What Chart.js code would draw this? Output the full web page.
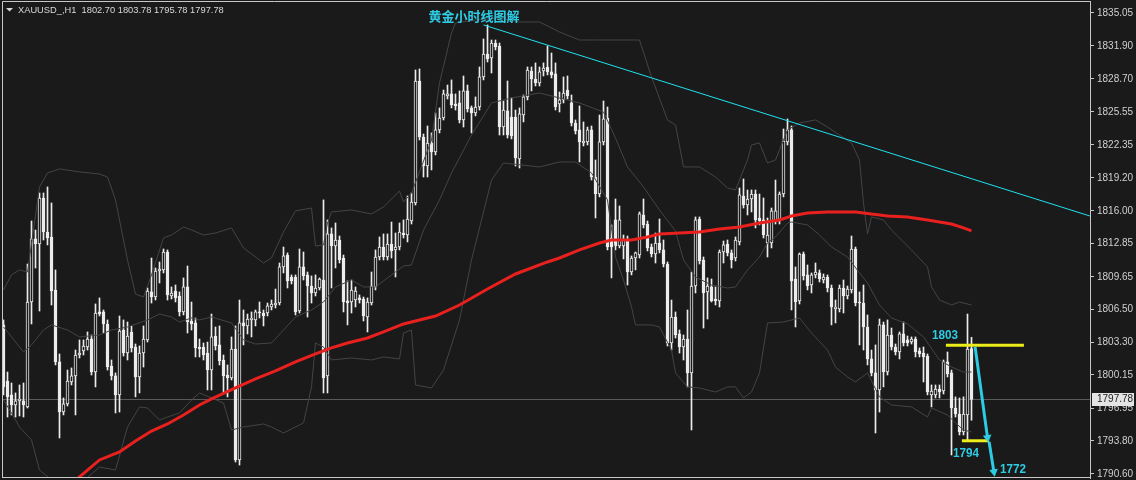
<!DOCTYPE html>
<html>
<head>
<meta charset="utf-8">
<script src="https://cdn.jsdelivr.net/npm/chart.js@4.4.0/dist/chart.umd.min.js"></script>
<style>
  html, body { margin: 0; padding: 0; background: #1a1a1a; }
  canvas { display: block; }
</style>
</head>
<body>
<canvas id="chart" width="1136" height="480"></canvas>
<script>
'use strict';

var symbolTitle = 'XAUUSD_,H1  1802.70 1803.78 1795.78 1797.78';
var chartNote   = '黄金小时线图解';

// H1 candles, oldest first
var openP = [
  1804.97,1799.56,1798.22,1797.25,1797.64,1797.64,1797.06,1807.18,1813.26,1812.77,
  1817.21,1813.93,1813.45,1808.34,1801.40,1796.57,1797.35,1799.47,1800.05,1802.07,
  1802.46,1802.84,1803.61,1800.43,1806.22,1806.22,1805.06,1801.01,1800.05,1798.22,
  1804.48,1802.26,1804.29,1802.84,1799.95,1802.26,1803.52,1808.15,1807.66,1810.17,
  1810.27,1812.00,1807.76,1808.24,1807.76,1806.22,1808.63,1805.35,1805.16,1802.84,
  1802.84,1802.26,1800.62,1803.90,1803.04,1801.59,1800.14,1799.85,1802.65,1791.95,
  1805.16,1804.87,1805.45,1805.45,1806.22,1806.12,1806.12,1806.70,1806.89,1807.08,
  1810.56,1811.71,1809.59,1809.59,1806.31,1810.56,1809.79,1808.72,1808.05,1808.53,
  1809.30,1800.05,1813.74,1812.58,1813.16,1811.42,1807.28,1807.18,1807.37,1807.57,
  1807.47,1805.73,1807.08,1808.63,1811.52,1812.48,1811.52,1812.77,1812.20,1812.48,
  1813.83,1813.64,1814.99,1816.73,1828.49,1823.09,1820.29,1822.51,1821.64,1823.77,
  1824.92,1827.04,1827.24,1826.27,1826.37,1824.73,1827.53,1825.89,1825.40,1825.98,
  1828.88,1831.09,1830.71,1832.15,1831.86,1824.05,1825.60,1825.02,1825.02,1820.97,
  1825.21,1826.95,1829.45,1828.68,1828.30,1829.45,1829.84,1829.36,1829.17,1826.27,
  1826.66,1827.62,1826.37,1824.44,1823.77,1822.51,1822.61,1823.77,1819.23,1817.59,
  1822.61,1824.92,1813.35,1815.09,1812.58,1812.58,1813.16,1810.07,1811.42,1811.71,
  1815.57,1814.70,1812.48,1811.81,1812.87,1812.20,1810.84,1803.23,1805.73,1804.10,
  1802.84,1803.61,1800.34,1808.72,1815.18,1811.23,1808.15,1808.63,1807.47,1807.28,
  1812.00,1812.77,1811.91,1811.42,1812.97,1817.40,1816.53,1817.11,1817.59,1815.28,
  1815.09,1812.87,1812.87,1814.99,1814.99,1817.59,1822.61,1823.77,1809.40,1807.28,
  1811.81,1809.79,1808.82,1809.79,1809.98,1809.30,1809.59,1808.53,1806.51,1806.51,
  1808.53,1807.76,1808.34,1812.29,1807.18,1807.08,1804.77,1801.69,1800.34,1798.70,
  1804.97,1800.43,1804.00,1802.84,1802.36,1804.10,1803.52,1803.32,1803.61,1802.46,
  1802.26,1801.97,1798.22,1798.22,1798.79,1798.60,1801.40,1800.34,1796.96,1796.38,
  1794.65,1796.29,1802.70
];
var highP = [
  1805.45,1800.43,1799.37,1798.41,1799.18,1799.37,1810.84,1814.99,1814.12,1817.69,
  1817.69,1818.27,1816.73,1810.27,1802.17,1797.93,1800.62,1800.82,1802.55,1803.52,
  1803.52,1804.29,1804.00,1806.99,1807.57,1806.41,1805.45,1801.59,1800.34,1805.83,
  1805.45,1805.25,1804.87,1803.13,1802.94,1804.87,1808.53,1811.42,1810.46,1811.04,
  1812.29,1812.20,1808.63,1808.82,1808.15,1809.50,1810.65,1807.18,1805.64,1803.61,
  1803.23,1803.32,1806.02,1804.77,1804.87,1802.07,1801.11,1803.81,1804.87,1807.37,
  1806.41,1806.02,1806.22,1806.41,1807.18,1806.41,1807.08,1807.37,1808.43,1810.94,
  1812.48,1811.91,1809.79,1809.79,1812.29,1812.00,1810.07,1809.69,1809.79,1809.50,
  1817.02,1815.09,1814.32,1814.80,1813.54,1811.71,1809.21,1809.30,1808.63,1807.86,
  1807.66,1807.57,1810.07,1812.20,1813.45,1813.74,1813.74,1814.89,1813.83,1814.80,
  1815.09,1817.40,1817.69,1829.55,1829.65,1823.38,1824.15,1823.48,1825.40,1825.89,
  1827.62,1828.10,1828.59,1827.24,1827.53,1828.97,1828.10,1826.08,1826.95,1829.84,
  1832.54,1833.89,1832.44,1832.44,1832.15,1826.56,1828.49,1826.85,1825.69,1825.89,
  1827.14,1829.84,1829.84,1830.23,1829.84,1830.23,1831.86,1831.19,1830.23,1827.43,
  1828.88,1828.97,1827.14,1824.73,1826.08,1824.54,1824.05,1824.15,1820.87,1825.21,
  1826.56,1825.98,1814.61,1817.11,1816.44,1813.64,1813.54,1811.62,1812.00,1815.86,
  1817.11,1814.99,1812.77,1813.83,1815.18,1813.16,1811.04,1807.37,1806.22,1804.48,
  1804.00,1806.41,1810.07,1815.38,1815.38,1811.52,1809.50,1809.40,1808.63,1812.20,
  1813.06,1813.16,1812.20,1813.45,1818.17,1819.04,1817.98,1817.98,1817.98,1817.59,
  1817.21,1815.28,1816.24,1818.94,1817.79,1823.86,1824.83,1824.15,1810.56,1811.91,
  1812.00,1810.75,1809.98,1810.94,1810.27,1809.88,1809.79,1808.82,1807.37,1808.82,
  1809.30,1808.72,1813.54,1812.48,1808.15,1808.82,1805.93,1802.55,1803.04,1805.54,
  1805.25,1805.45,1804.67,1803.13,1804.29,1805.25,1803.90,1803.81,1803.81,1802.75,
  1802.84,1802.17,1799.18,1799.18,1799.18,1801.59,1802.36,1800.62,1798.03,1797.93,
  1798.03,1806.02,1803.78
];
var lowP = [
  1798.22,1796.09,1796.29,1796.09,1796.19,1796.09,1796.96,1805.06,1810.46,1806.31,
  1813.16,1812.68,1806.89,1801.11,1794.07,1796.29,1797.15,1799.18,1796.29,1801.78,
  1802.07,1802.55,1800.14,1798.99,1805.83,1804.19,1800.62,1799.66,1796.48,1796.57,
  1801.97,1801.59,1802.36,1798.03,1798.41,1800.91,1803.32,1807.08,1807.37,1809.01,
  1809.98,1807.37,1807.47,1807.18,1805.83,1805.93,1804.19,1804.48,1801.88,1801.88,
  1801.59,1798.70,1798.70,1802.55,1801.11,1798.41,1798.03,1799.66,1791.75,1791.46,
  1803.04,1804.10,1803.81,1804.87,1805.64,1804.87,1805.83,1806.41,1806.60,1806.89,
  1809.98,1808.53,1808.92,1805.93,1806.12,1809.30,1805.73,1807.08,1807.76,1808.34,
  1798.41,1798.41,1808.53,1810.46,1810.94,1806.22,1804.97,1806.12,1806.70,1807.08,
  1805.35,1804.29,1806.89,1808.34,1811.23,1811.23,1811.23,1811.42,1809.59,1812.20,
  1813.35,1812.97,1814.70,1816.53,1822.80,1819.23,1819.23,1819.91,1821.36,1823.48,
  1824.73,1826.75,1825.89,1825.69,1824.44,1824.05,1825.50,1823.48,1825.12,1825.69,
  1828.59,1830.32,1829.26,1831.48,1823.28,1823.28,1822.99,1822.90,1820.29,1820.10,
  1824.54,1826.66,1827.53,1828.01,1828.01,1828.97,1829.07,1828.78,1825.69,1825.50,
  1826.37,1826.75,1824.15,1823.38,1820.68,1822.22,1822.32,1818.94,1815.28,1817.31,
  1822.32,1812.20,1809.50,1812.20,1812.39,1811.33,1808.82,1809.79,1810.27,1811.42,
  1814.32,1812.10,1811.52,1810.94,1811.91,1810.56,1802.94,1802.55,1803.71,1802.26,
  1801.59,1798.99,1794.84,1808.05,1810.84,1804.67,1805.54,1807.18,1806.89,1806.70,
  1810.94,1811.62,1810.46,1811.13,1812.68,1816.24,1815.57,1815.86,1814.32,1814.61,
  1813.35,1811.52,1812.39,1814.70,1814.70,1817.31,1822.32,1806.41,1804.77,1806.99,
  1809.30,1808.34,1808.05,1809.50,1809.11,1809.01,1808.15,1804.97,1805.16,1806.22,
  1806.12,1807.47,1808.05,1806.80,1803.04,1802.55,1801.11,1800.05,1794.55,1796.57,
  1798.99,1800.14,1802.55,1802.07,1801.69,1802.94,1802.94,1803.13,1801.88,1801.88,
  1799.47,1798.22,1797.06,1797.93,1797.93,1798.31,1799.95,1792.43,1796.09,1794.36,
  1794.36,1793.88,1795.78
];
var closeP = [
  1798.99,1798.03,1797.25,1797.64,1797.83,1797.25,1807.18,1813.26,1812.77,1817.21,
  1813.93,1813.35,1808.24,1801.40,1796.57,1797.35,1799.56,1800.05,1802.07,1802.26,
  1802.94,1803.61,1800.43,1806.12,1806.02,1805.06,1800.91,1800.05,1798.22,1804.38,
  1802.26,1803.90,1802.75,1799.95,1802.26,1803.61,1808.24,1807.66,1810.17,1810.36,
  1812.00,1807.86,1808.05,1807.57,1806.22,1808.63,1805.25,1805.06,1802.75,1802.65,
  1802.07,1800.62,1803.81,1802.94,1801.49,1800.05,1799.85,1802.65,1791.95,1805.16,
  1804.87,1805.54,1805.64,1806.22,1806.12,1805.83,1806.80,1806.99,1807.08,1810.56,
  1811.62,1809.21,1809.21,1806.22,1810.56,1809.69,1808.72,1808.05,1808.53,1809.40,
  1799.85,1813.74,1812.58,1813.16,1811.23,1807.18,1807.08,1808.34,1808.24,1807.37,
  1805.83,1807.18,1808.72,1811.52,1812.48,1811.52,1812.77,1812.10,1812.48,1813.93,
  1813.64,1815.18,1816.82,1828.49,1823.09,1820.29,1822.51,1821.64,1823.77,1824.92,
  1827.24,1827.24,1826.18,1826.08,1824.73,1827.53,1825.79,1825.40,1825.98,1828.88,
  1831.09,1830.61,1832.15,1831.77,1824.05,1825.69,1823.28,1823.19,1821.07,1825.31,
  1826.95,1829.55,1828.68,1828.30,1829.36,1829.74,1829.36,1829.07,1825.98,1826.66,
  1827.33,1827.04,1824.44,1823.67,1822.61,1822.70,1823.77,1819.23,1817.59,1822.61,
  1824.83,1812.48,1812.48,1812.58,1815.09,1813.16,1810.07,1811.42,1811.91,1815.67,
  1814.61,1812.39,1811.81,1812.87,1812.20,1810.84,1803.23,1805.73,1804.00,1802.84,
  1803.61,1800.34,1808.72,1815.09,1811.13,1808.05,1808.72,1807.28,1807.28,1812.00,
  1812.68,1811.91,1811.23,1813.16,1817.50,1816.53,1817.11,1817.59,1815.09,1814.99,
  1813.64,1813.64,1815.96,1815.96,1817.59,1822.70,1823.77,1809.21,1807.18,1811.81,
  1809.69,1808.72,1809.79,1810.07,1809.40,1809.59,1808.53,1806.70,1806.70,1808.53,
  1807.76,1808.43,1812.29,1807.08,1807.08,1804.77,1801.69,1800.34,1798.70,1804.97,
  1800.43,1804.00,1802.84,1802.36,1804.10,1803.23,1803.23,1803.61,1802.36,1802.17,
  1801.88,1798.50,1798.60,1798.79,1798.50,1801.40,1800.24,1796.96,1796.38,1794.65,
  1796.38,1802.65,1797.78
];

// right price scale
var yTicks = [1835.05, 1831.90, 1828.70, 1825.55, 1822.35, 1819.20, 1816.00, 1812.85,
              1809.65, 1806.50, 1803.30, 1800.15, 1796.95, 1793.80, 1790.60];
var yMin = 1790.21, yMax = 1836.20;
var slotCount = 272;
var lastPrice = 1797.78;

// moving average (bar index / price)
var maIdx = [15,19,24,29,33,37,41,45,49,52,58,63,68,73,78,82,86,91,95,100,103,108,114,121,128,136,139,144,149,152,157,161,164,169,174,179,184,189,194,197,201,206,213,217,221,226,231,234,237,240,242];
var maVal = [1788.86,1790.31,1791.95,1792.72,1793.78,1794.74,1795.42,1796.29,1797.25,1797.83,1798.89,1799.76,1800.53,1801.40,1802.17,1802.75,1803.23,1803.71,1804.29,1805.06,1805.35,1805.83,1806.89,1808.43,1809.88,1811.04,1811.42,1812.20,1812.87,1813.16,1813.16,1813.45,1813.74,1813.83,1813.93,1814.22,1814.41,1814.80,1815.09,1815.47,1815.76,1815.86,1815.86,1815.67,1815.47,1815.38,1815.09,1814.89,1814.70,1814.32,1814.03];

// bollinger bands (grey lines)
var bbUpIdx = [0,2,4,6,9,11,14,19,24,26,28,31,33,35,37,40,42,45,47,50,53,57,60,65,67,70,73,77,78,80,81,82,87,92,95,99,100,102,107,109,112,113,118,124,129,134,139,144,149,159,162,166,168,170,174,178,181,183,186,187,189,191,193,196,199,203,206,209,212,214,215,216,217,220,222,227,231,232,234,237,239,242];
var bbUpVal = [1808.34,1809.79,1810.27,1810.07,1818.27,1819.62,1820.01,1819.72,1819.52,1819.23,1817.02,1811.23,1807.95,1807.66,1809.79,1813.35,1813.64,1814.41,1814.12,1813.64,1813.83,1814.32,1812.39,1810.94,1811.42,1813.93,1815.96,1816.24,1812.58,1812.68,1814.80,1815.86,1816.05,1815.67,1816.34,1817.88,1816.82,1817.69,1822.80,1828.30,1833.12,1834.08,1834.37,1834.56,1834.18,1834.18,1833.21,1832.44,1832.44,1832.44,1828.88,1824.73,1824.25,1820.20,1820.20,1819.23,1818.17,1817.98,1820.87,1822.32,1822.51,1820.58,1820.87,1823.77,1824.44,1824.73,1824.05,1823.28,1822.51,1820.87,1816.73,1813.74,1815.38,1815.09,1814.12,1812.20,1810.56,1808.63,1807.37,1806.89,1807.18,1806.89];
var bbMidIdx = [0,2,5,7,10,12,16,19,24,27,31,36,39,42,44,47,49,52,57,60,63,67,70,73,77,80,83,87,90,93,97,100,102,105,109,112,117,122,127,134,139,144,150,153,156,160,164,168,170,173,177,181,183,186,189,191,193,196,197,201,204,207,211,214,216,219,222,226,230,234,237,240,242];
var bbMidVal = [1804.77,1803.81,1802.36,1803.04,1804.48,1804.97,1804.48,1803.81,1804.00,1804.48,1804.77,1805.45,1806.02,1805.73,1805.25,1805.64,1805.45,1805.73,1805.16,1803.52,1803.13,1803.23,1804.48,1805.73,1806.41,1807.18,1808.63,1809.30,1808.63,1808.63,1809.79,1810.65,1810.75,1814.12,1817.02,1819.62,1823.28,1826.37,1826.85,1827.33,1826.85,1826.37,1825.50,1822.99,1820.20,1818.27,1816.05,1814.03,1811.23,1809.59,1808.82,1808.53,1808.63,1810.27,1811.52,1812.87,1813.45,1814.80,1814.89,1814.61,1813.64,1812.48,1811.52,1809.98,1809.01,1806.89,1805.64,1805.06,1803.81,1801.59,1800.91,1800.43,1800.43];
var bbLowIdx = [0,2,4,7,9,12,16,24,28,31,34,36,39,41,44,47,49,55,57,60,65,67,70,73,75,77,78,80,82,87,92,95,99,100,102,103,107,110,114,117,122,125,134,139,143,147,151,153,155,157,158,162,164,167,168,171,174,178,181,183,185,187,189,191,195,199,202,206,208,211,213,216,219,222,227,231,232,236,238,240,242];
var bbLowVal = [1797.73,1796.48,1795.13,1793.88,1790.98,1790.02,1788.57,1791.27,1790.98,1795.13,1797.06,1796.96,1795.80,1796.09,1796.48,1797.73,1798.41,1797.44,1794.84,1795.13,1795.42,1795.13,1794.55,1795.13,1795.52,1798.99,1803.23,1802.84,1801.59,1801.78,1801.59,1801.88,1801.69,1804.19,1804.48,1799.18,1798.89,1800.62,1805.45,1811.23,1818.94,1820.58,1820.20,1820.68,1820.68,1819.62,1817.02,1811.52,1809.30,1806.70,1804.97,1804.97,1804.77,1802.55,1800.34,1798.99,1798.89,1798.50,1798.99,1798.99,1797.93,1798.50,1800.34,1805.16,1805.25,1805.64,1804.19,1802.55,1800.91,1799.95,1799.47,1800.34,1798.03,1797.25,1797.06,1796.09,1796.96,1796.29,1795.52,1794.84,1794.65];

// drawn objects
var trendIdx  = [120, 271.6];
var trendVal  = [1833.89, 1815.47];
var lvlHiIdx  = [235.6, 255.1];
var lvlHiVal  = [1803.0, 1803.0];
var lvlLoIdx  = [239.6, 246.4];
var lvlLoVal  = [1793.8, 1793.8];
var arrow1Idx = [242.9, 246.0];
var arrow1Val = [1802.85, 1794.1];
var arrow2Idx = [246.4, 247.6];
var arrow2Val = [1793.7, 1790.8];
var priceIdx  = [-0.375, slotCount - 0.375];
var priceVal  = [lastPrice, lastPrice];

var BG = '#1a1a1a', CANDLE = '#ececec', NOTE = '#2ecbe4';

function pts(ix, vals) {
  return ix.map(function(x, k) { return { x: x, y: vals[k] }; });
}

function lineSet(ix, vals, color, width, order) {
  return {
    type: 'line', data: pts(ix, vals), borderColor: color, borderWidth: width,
    pointRadius: 0, tension: 0, fill: false, order: order
  };
}

function arrowSet(ix, vals, rot) {
  var ds = lineSet(ix, vals, NOTE, 3, 1);
  ds.pointRadius = [0, 5];
  ds.pointStyle = 'triangle';
  ds.pointRotation = [0, rot];
  ds.pointBackgroundColor = NOTE;
  ds.pointBorderWidth = 0;
  return ds;
}

var wicks = lowP.map(function(lo, i) { return { x: i, y: [lo, highP[i]] }; });
var bodies = openP.map(function(o, i) {
  return { x: i, y: [Math.min(o, closeP[i]), Math.max(o, closeP[i])] };
});
var bodyFill = openP.map(function(o, i) { return closeP[i] >= o ? BG : CANDLE; });

var mtDecor = {
  id: 'mtDecor',
  beforeDraw: function(chart) {
    var ctx = chart.ctx;
    ctx.save();
    ctx.fillStyle = BG;
    ctx.fillRect(0, 0, chart.width, chart.height);
    ctx.restore();
  },
  afterDraw: function(chart) {
    var ctx = chart.ctx, a = chart.chartArea;
    var xs = chart.scales.x, ys = chart.scales.y;
    ctx.save();

    // frame
    ctx.strokeStyle = '#c8c8c8';
    ctx.lineWidth = 1;
    ctx.beginPath();
    ctx.moveTo(a.left + 0.5, a.bottom);
    ctx.lineTo(a.left + 0.5, a.top + 0.5);
    ctx.lineTo(a.right, a.top + 0.5);
    ctx.moveTo(a.left, a.bottom - 0.5);
    ctx.lineTo(a.right, a.bottom - 0.5);
    ctx.stroke();

    // price scale labels
    ctx.fillStyle = '#d0d0d0';
    ctx.font = '10px "Liberation Sans"';
    ctx.textAlign = 'left';
    ctx.textBaseline = 'middle';
    yTicks.forEach(function(v) {
      ctx.fillText(v.toFixed(2), a.right + 7, ys.getPixelForValue(v) + 0.5);
    });

    // symbol line
    ctx.fillStyle = '#d8d8d8';
    ctx.beginPath();
    ctx.moveTo(6, 8); ctx.lineTo(13, 8); ctx.lineTo(9.5, 11.5); ctx.closePath();
    ctx.fill();
    ctx.font = '9.3px "Liberation Sans"';
    ctx.fillText(symbolTitle, 18, 10);

    // last price tag
    var py = Math.round(ys.getPixelForValue(lastPrice));
    ctx.fillStyle = '#e4e4e4';
    ctx.fillRect(a.right + 2, py - 6, 42, 13);
    ctx.fillStyle = '#1a1a1a';
    ctx.font = '10px "Liberation Sans"';
    ctx.fillText(lastPrice.toFixed(2), a.right + 7, py + 0.5);

    // chart note
    ctx.fillStyle = NOTE;
    ctx.font = 'bold 13px "Noto Sans CJK SC"';
    ctx.textAlign = 'center';
    ctx.fillText(chartNote, 474, 16);

    // level labels
    var marks = [
      { t: '1803', x: 232.1, y: 1803.61 },
      { t: '1794', x: 237.4, y: 1792.24 },
      { t: '1772', x: 249.1, y: 1790.69 }
    ];
    ctx.font = 'bold 13px "Liberation Sans"';
    ctx.textAlign = 'left';
    ctx.textBaseline = 'alphabetic';
    marks.forEach(function(m) {
      ctx.save();
      ctx.translate(xs.getPixelForValue(m.x), ys.getPixelForValue(m.y));
      ctx.scale(0.9, 1);
      ctx.fillText(m.t, 0, 0);
      ctx.restore();
    });
    ctx.restore();
  }
};

new Chart(document.getElementById('chart').getContext('2d'), {
  type: 'bar',
  data: {
    datasets: [
      lineSet(priceIdx, priceVal, '#5c5c5c', 1, 10),
      { type: 'bar', data: wicks, backgroundColor: CANDLE, borderWidth: 0,
        barThickness: 1, grouped: false, minBarLength: 1, order: 9 },
      { type: 'bar', data: bodies, backgroundColor: bodyFill, borderColor: CANDLE,
        borderWidth: 1, borderSkipped: false, barThickness: 3, grouped: false,
        minBarLength: 1, order: 8 },
      lineSet(bbUpIdx, bbUpVal, '#444444', 1, 6),
      lineSet(bbMidIdx, bbMidVal, '#444444', 1, 6),
      lineSet(bbLowIdx, bbLowVal, '#444444', 1, 6),
      lineSet(maIdx, maVal, '#e8201e', 3, 5),
      lineSet(trendIdx, trendVal, '#1fe2f0', 1, 4),
      lineSet(lvlHiIdx, lvlHiVal, '#ecec1a', 3, 2),
      lineSet(lvlLoIdx, lvlLoVal, '#ecec1a', 3, 2),
      arrowSet(arrow1Idx, arrow1Val, 172),
      arrowSet(arrow2Idx, arrow2Val, 172)
    ]
  },
  options: {
    responsive: false,
    animation: false,
    events: [],
    layout: { autoPadding: false, padding: { left: 2, top: 1, right: 0, bottom: 2 } },
    plugins: { legend: { display: false }, tooltip: { enabled: false } },
    scales: {
      x: { type: 'linear', display: false, offset: false,
           min: -0.375, max: slotCount - 0.375 },
      y: {
        position: 'right', min: yMin, max: yMax,
        afterBuildTicks: function(s) { s.ticks = yTicks.map(function(v) { return { value: v }; }); },
        afterFit: function(s) { s.width = 46; },
        border: { color: '#c8c8c8' },
        grid: { drawOnChartArea: false, tickLength: 4, color: '#c8c8c8' },
        ticks: { display: false }
      }
    }
  },
  plugins: [mtDecor]
});
</script>
</body>
</html>
